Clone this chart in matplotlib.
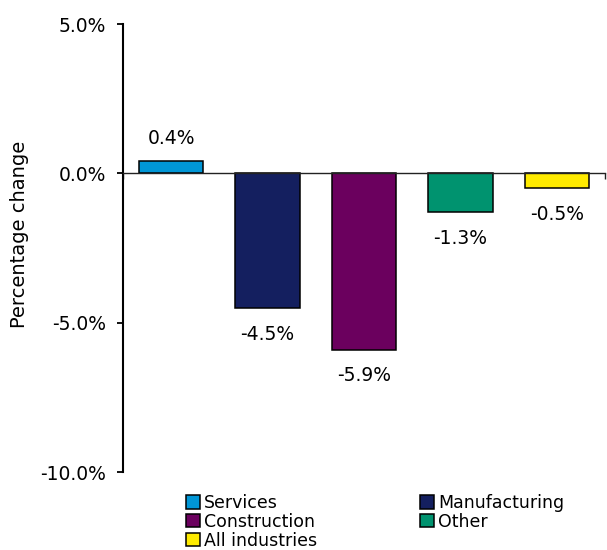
import matplotlib
matplotlib.use("Agg")
import matplotlib.pyplot as plt
from matplotlib.patches import Patch

# data
industries = ['Services', 'Manufacturing', 'Construction', 'Other', 'All industries']
change = [0.4, -4.5, -5.9, -1.3, -0.5]
colours = ['#0096D6', '#141F5F', '#6B005E', '#00936F', '#FFEB00']
yticks = [-10, -5, 0, 5]

plt.rcParams['font.family'] = ['DejaVu Sans']

fig = plt.figure(figsize=(6.07, 5.5), dpi=100)
ax = fig.add_axes([123/607, 1-472/550, 482/607, 448/550])

x = list(range(len(industries)))
bars = ax.bar(x, change, width=0.67, color=colours, edgecolor='black', linewidth=1.1, zorder=3)

ax.set_xlim(-0.5, len(industries)-0.5)
ax.set_ylim(-10, 5)
ax.set_yticks(yticks)
ax.set_yticklabels(['%.1f%%' % v for v in yticks], fontsize=13.5)
ax.tick_params(axis='y', length=4.5, width=1.3, pad=8)

# x axis sits on zero, ticks only at the ends
ax.spines['bottom'].set_position(('data', 0))
ax.spines['bottom'].set_color('#222222')
ax.spines['bottom'].set_linewidth(1.0)
ax.spines['bottom'].set_zorder(4)
ax.spines['top'].set_visible(False)
ax.spines['right'].set_visible(False)
ax.spines['left'].set_linewidth(1.5)
ax.set_xticks([-0.5, len(industries)-0.5])
ax.set_xticklabels([])
ax.tick_params(axis='x', length=4, width=1.0, color='#222222')

ax.set_ylabel('Percentage change', fontsize=14)
ax.yaxis.set_label_coords(-0.195, 0.53)

# value labels
for xi, v in zip(x, change):
    if v >= 0:
        off = 16.5
    else:
        off = -19
    ax.annotate('%.1f%%' % v, (xi, v), xytext=(0, off), textcoords='offset points',
                ha='center', va='center', fontsize=13.5)

# legend, column-wise order to match the reference layout
handles = [Patch(facecolor=c, edgecolor='black', linewidth=1.1) for c in colours]
order = [0, 2, 4, 1, 3]
fig.legend([handles[i] for i in order], [industries[i] for i in order],
           ncol=2, loc='upper left', bbox_to_anchor=(186/607, 1-494/550),
           frameon=False, fontsize=12.5, borderpad=0, borderaxespad=0,
           handlelength=0.8, handleheight=0.8, handletextpad=0.25,
           labelspacing=0.05, columnspacing=5.9)

fig.savefig('out.png', dpi=100)
